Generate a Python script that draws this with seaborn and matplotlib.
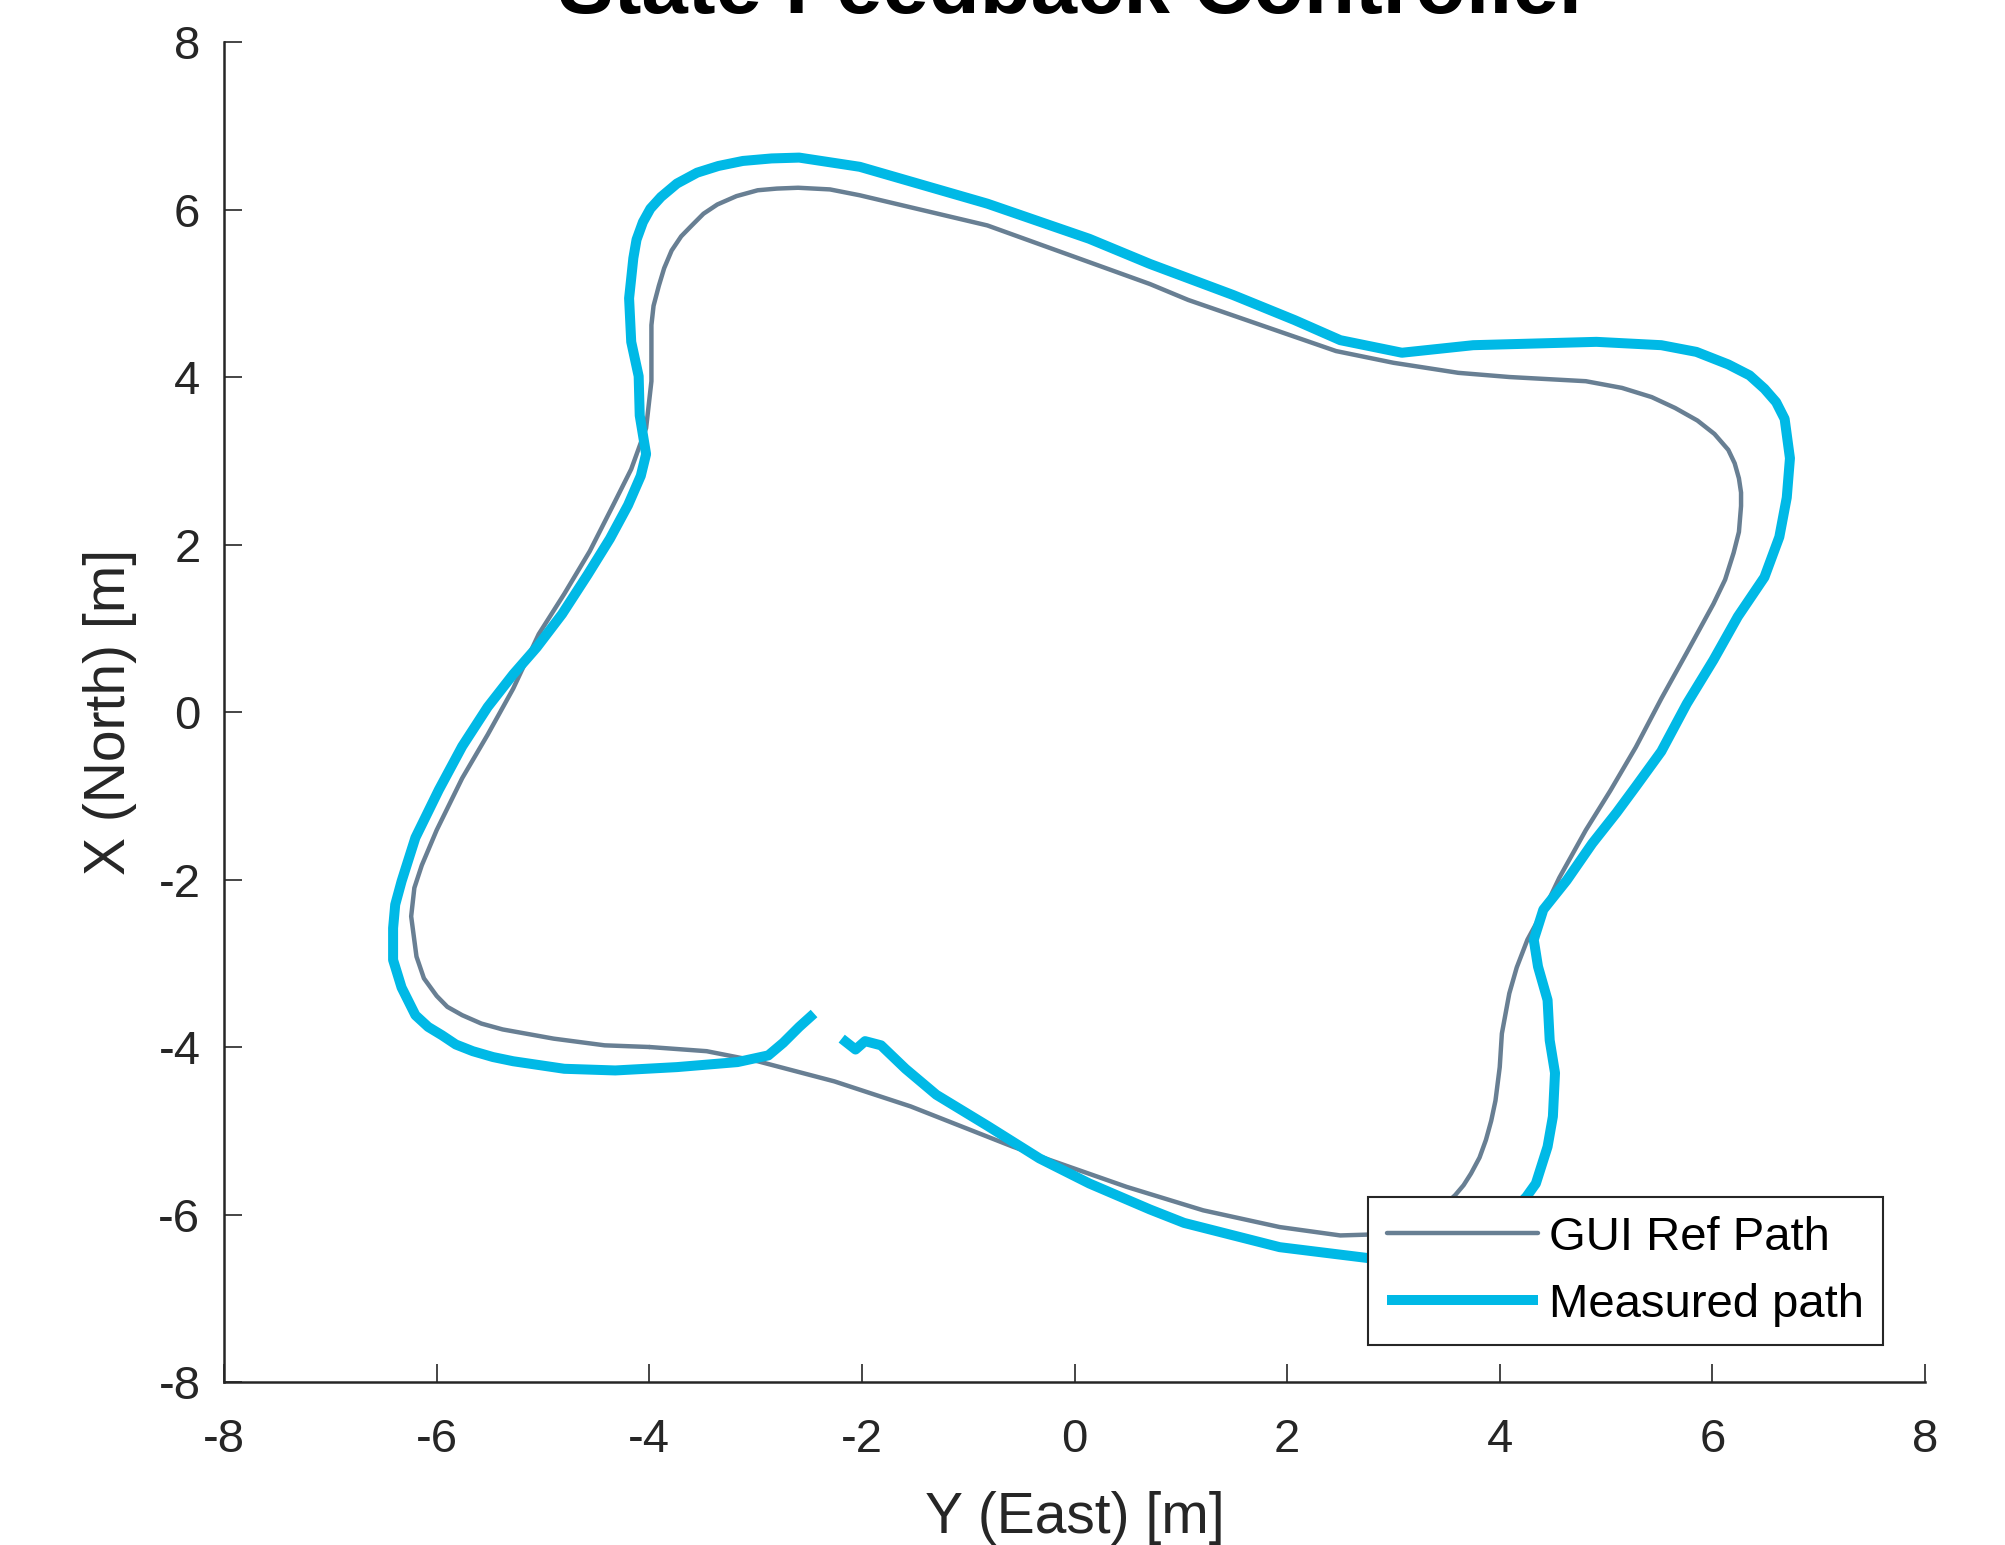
import matplotlib
matplotlib.use("Agg")
import matplotlib.pyplot as plt
import seaborn as sns

# GUI reference path, Y (East) / X (North) in metres
ref_east = [-4.00, -4.42, -4.90, -5.38, -5.58, -5.76, -5.90, -6.00, -6.12, -6.19,
            -6.24, -6.21, -6.14, -6.00, -5.76, -5.52, -5.28, -5.04, -4.80, -4.56,
            -4.34, -4.17, -4.03, -3.98, -3.98, -3.96, -3.91, -3.86, -3.79, -3.70,
            -3.60, -3.49, -3.36, -3.18, -2.98, -2.80, -2.60, -2.30, -2.02, -0.82,
            0.71, 1.07, 2.46, 3.00, 3.61, 4.09, 4.81, 5.15, 5.43, 5.65,
            5.86, 6.02, 6.15, 6.21, 6.25, 6.27, 6.27, 6.25, 6.20, 6.12,
            6.01, 5.76, 5.52, 5.28, 5.04, 4.81, 4.56, 4.44, 4.26, 4.16,
            4.09, 4.02, 4.00, 3.96, 3.92, 3.87, 3.81, 3.73, 3.66, 3.58,
            3.40, 3.10, 2.76, 2.50, 1.93, 1.21, 0.49, -0.23, -0.58, -1.54,
            -2.26, -2.98, -3.46, -4.00]
ref_north = [-4.00, -3.98, -3.90, -3.79, -3.72, -3.62, -3.52, -3.39, -3.18, -2.92,
             -2.44, -2.10, -1.83, -1.41, -0.79, -0.27, 0.28, 0.93, 1.41, 1.92,
             2.47, 2.90, 3.39, 3.95, 4.62, 4.85, 5.09, 5.30, 5.51, 5.68,
             5.81, 5.95, 6.06, 6.16, 6.23, 6.25, 6.26, 6.24, 6.17, 5.81,
             5.11, 4.92, 4.31, 4.17, 4.05, 4.00, 3.95, 3.87, 3.76, 3.63,
             3.48, 3.32, 3.13, 2.97, 2.79, 2.62, 2.46, 2.15, 1.90, 1.58,
             1.29, 0.71, 0.16, -0.42, -0.94, -1.41, -1.98, -2.30, -2.72, -3.05,
             -3.36, -3.84, -4.24, -4.64, -4.88, -5.11, -5.32, -5.51, -5.65, -5.77,
             -5.98, -6.17, -6.24, -6.25, -6.15, -5.95, -5.67, -5.35, -5.19, -4.71,
             -4.41, -4.17, -4.05, -4.00]

# measured path
meas_east = [-2.19, -2.06, -1.97, -1.82, -1.59, -1.30, -0.82, -0.33, 0.14, 0.71,
             1.03, 1.93, 2.76, 3.30, 3.75, 4.05, 4.25, 4.34, 4.45, 4.50,
             4.52, 4.47, 4.45, 4.36, 4.32, 4.41, 4.63, 4.87, 5.10, 5.28,
             5.52, 5.76, 6.01, 6.24, 6.49, 6.63, 6.70, 6.73, 6.68, 6.60,
             6.49, 6.35, 6.15, 5.85, 5.52, 4.91, 4.33, 3.75, 3.08, 2.50,
             2.07, 1.49, 0.71, 0.14, -0.82, -2.02, -2.59, -2.85, -3.12, -3.35,
             -3.55, -3.74, -3.89, -3.99, -4.06, -4.12, -4.15, -4.19, -4.17, -4.10,
             -4.09, -4.03, -4.08, -4.20, -4.37, -4.58, -4.82, -5.06, -5.28, -5.52,
             -5.76, -5.98, -6.20, -6.33, -6.39, -6.41, -6.41, -6.33, -6.20, -6.08,
             -5.95, -5.82, -5.66, -5.47, -5.28, -4.80, -4.32, -3.74, -3.17, -2.88,
             -2.74, -2.59, -2.45]
meas_north = [-3.90, -4.03, -3.93, -3.98, -4.26, -4.57, -4.94, -5.33, -5.63, -5.94,
              -6.10, -6.39, -6.52, -6.48, -6.30, -6.05, -5.79, -5.63, -5.19, -4.83,
              -4.31, -3.92, -3.44, -3.04, -2.72, -2.36, -2.01, -1.57, -1.20, -0.89,
              -0.47, 0.10, 0.62, 1.14, 1.61, 2.09, 2.56, 3.03, 3.50, 3.70,
              3.86, 4.02, 4.15, 4.30, 4.38, 4.42, 4.40, 4.38, 4.29, 4.44,
              4.68, 4.98, 5.35, 5.65, 6.07, 6.51, 6.62, 6.61, 6.58, 6.52,
              6.44, 6.31, 6.15, 6.01, 5.85, 5.64, 5.42, 4.94, 4.42, 4.01,
              3.54, 3.08, 2.82, 2.47, 2.07, 1.64, 1.17, 0.77, 0.45, 0.06,
              -0.41, -0.93, -1.50, -2.02, -2.30, -2.58, -2.96, -3.29, -3.62, -3.76,
              -3.86, -3.97, -4.05, -4.12, -4.17, -4.26, -4.28, -4.24, -4.18, -4.10,
              -3.95, -3.76, -3.60]

ticks = [-8, -6, -4, -2, 0, 2, 4, 6, 8]

sns.set_style("ticks")
plt.rcParams['font.family'] = ['Liberation Sans', 'DejaVu Sans']
plt.rcParams['axes.unicode_minus'] = False

fig = plt.figure(figsize=(20.06, 15.45), dpi=100)
ax = fig.add_axes([0.1117, 0.1055, 0.8479, 0.8673])

sns.lineplot(x=ref_east, y=ref_north, sort=False, estimator=None, ax=ax,
             color='#687f93', linewidth=3.2, label='GUI Ref Path')
sns.lineplot(x=meas_east, y=meas_north, sort=False, estimator=None, ax=ax,
             color='#00b9e6', linewidth=7.2, label='Measured path',
             solid_capstyle='butt')

ax.set_xlim(-8, 8)
ax.set_ylim(-8, 8)
ax.set_xticks(ticks)
ax.set_yticks(ticks)
ax.set_xticklabels([str(t) for t in ticks])
ax.set_yticklabels([str(t) for t in ticks])

sns.despine(ax=ax)
for s in ['left', 'bottom']:
    ax.spines[s].set_linewidth(1.8)
    ax.spines[s].set_color('#262626')

ax.tick_params(direction='in', length=13, width=1.2, colors='#262626', labelsize=34)
ax.tick_params(axis='x', pad=26)
ax.tick_params(axis='y', pad=17)

ax.set_title('State Feedback Controller', fontsize=60, fontweight='bold',
             color='black', pad=21)

ax.set_xlabel('Y (East) [m]', fontsize=41, color='#262626')
ax.set_ylabel('X (North) [m]', fontsize=41, color='#262626')
ax.xaxis.label.set_va('baseline')
ax.xaxis.set_label_coords(0.5, -0.1127)
ax.yaxis.label.set_va('baseline')
ax.yaxis.set_label_coords(-0.0582, 0.5)

leg = ax.legend(loc='upper left', bbox_to_anchor=(0.6725, 0.1381),
                borderaxespad=0, fontsize=34, handlelength=3.2,
                handletextpad=0.24, borderpad=0.40, labelspacing=0.48,
                fancybox=False, framealpha=1)
leg.get_frame().set_edgecolor('#262626')
leg.get_frame().set_linewidth(1.5)
for t in leg.get_texts():
    t.set_color('black')

fig.savefig('out.png', dpi=100)
